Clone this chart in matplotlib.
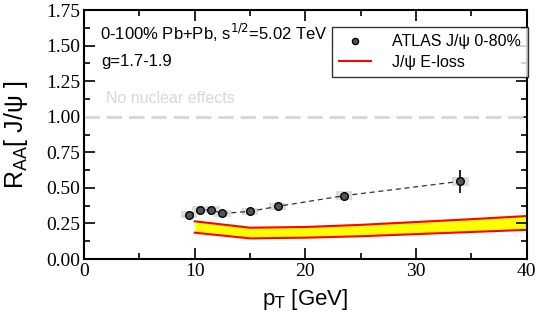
import numpy as np
import matplotlib.pyplot as plt
from matplotlib.ticker import MultipleLocator

# ATLAS J/psi data 0-80%
pt = [9.5, 10.5, 11.5, 12.5, 15.0, 17.5, 23.5, 34.0]
raa = [0.31, 0.345, 0.345, 0.32, 0.335, 0.37, 0.445, 0.546]
stat = [0.01, 0.01, 0.01, 0.01, 0.01, 0.01, 0.012, 0.08]
sys_dx = [0.75, 0.75, 0.75, 0.75, 0.75, 0.75, 0.75, 0.75]
sys_dy = [0.025, 0.025, 0.025, 0.025, 0.025, 0.025, 0.03, 0.03]

# E-loss band
band_pt = [10, 15, 20, 25, 30, 35, 40]
band_lo = [0.185, 0.145, 0.15, 0.16, 0.175, 0.19, 0.205]
band_hi = [0.265, 0.22, 0.225, 0.24, 0.26, 0.28, 0.302]

plt.rcParams['font.family'] = ['Liberation Sans', 'DejaVu Sans']

fig = plt.figure(figsize=(5.4, 3.18), dpi=100)
ax = fig.add_axes([0.1556, 0.1855, 0.82, 0.783])

# no nuclear effects line
ax.axhline(1.0, color='#d8d8d8', lw=2.2, dashes=(5, 2.3))
ax.text(2.0, 1.095, 'No nuclear effects', color='#d8d8d8', fontsize=11.5)

# band
ax.fill_between(band_pt, band_lo, band_hi, color='yellow', lw=0)
ax.plot(band_pt, band_lo, color='red', lw=1.5)
ax.plot(band_pt, band_hi, color='red', lw=1.5, label='J/ψ E-loss')

# systematic boxes
for x, y, dx, dy in zip(pt, raa, sys_dx, sys_dy):
    ax.add_patch(plt.Rectangle((x - dx, y - dy), 2 * dx, 2 * dy,
                               facecolor='#dcdcdc', edgecolor='none', zorder=2))

ax.plot(pt, raa, color='#333333', lw=0.9, dashes=(4, 3), zorder=3)
ax.errorbar(pt, raa, yerr=stat, fmt='none', ecolor='black', elinewidth=1.2,
            capsize=0, zorder=4)
ax.plot(pt, raa, 'o', ms=5.5, mfc='#555555', mec='black', mew=1, zorder=5,
        label='ATLAS J/ψ 0-80%')

ax.text(1.45, 1.59, r'0-100% Pb+Pb, s$^{1/2}$=5.02 TeV', fontsize=12, va='center')
ax.text(1.6, 1.39, 'g=1.7-1.9', fontsize=12, va='center')

ax.set_xlim(0, 40)
ax.set_ylim(0, 1.75)
ax.xaxis.set_major_locator(MultipleLocator(10))
ax.xaxis.set_minor_locator(MultipleLocator(5))
ax.yaxis.set_major_locator(MultipleLocator(0.25))
ax.yaxis.set_minor_locator(MultipleLocator(0.125))
ax.yaxis.set_major_formatter(plt.FuncFormatter(lambda v, p: f'{v:.2f}'))
ax.tick_params(which='both', direction='in', top=True, right=True, width=1.2)
ax.tick_params(which='major', length=8, labelsize=14, pad=3)
ax.tick_params(which='minor', length=4)
for lab in ax.get_xticklabels() + ax.get_yticklabels():
    lab.set_family('Liberation Serif')
for s in ax.spines.values():
    s.set_linewidth(1.5)

ax.set_xlabel(r'p$_{\rm T}$ [GeV]', fontsize=16, labelpad=5)
ax.set_ylabel(r'R$_{\rm AA}$[ J/ψ ]', fontsize=18, labelpad=11)

h, l = ax.get_legend_handles_labels()
leg = ax.legend(h[::-1], l[::-1], loc='upper right', bbox_to_anchor=(1.003, 0.932),
                borderaxespad=0, fontsize=11.5, frameon=True, fancybox=False,
                edgecolor='black', handlelength=2.0, handletextpad=1.3,
                borderpad=0.45, labelspacing=0.35, markerscale=0.8)
leg.get_frame().set_linewidth(1.0)

fig.savefig('out.png', dpi=100)
